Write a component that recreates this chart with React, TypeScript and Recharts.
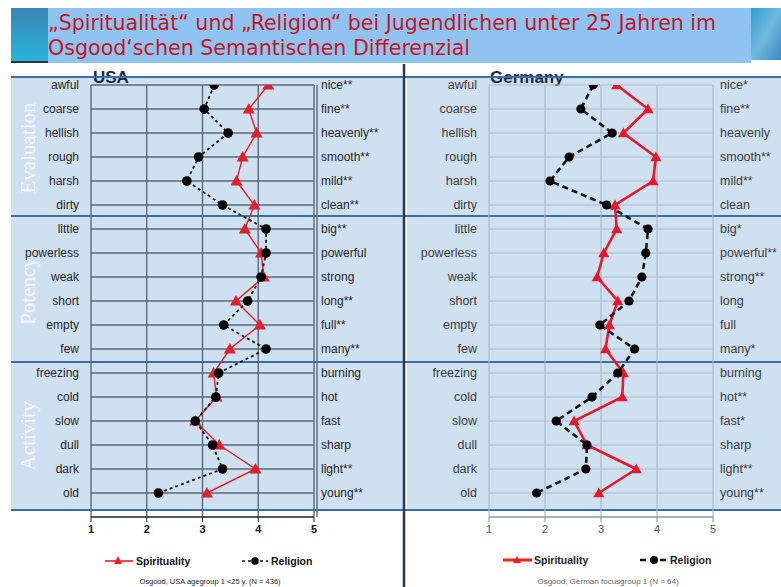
import React from 'react';
import { LineChart, Line, XAxis, YAxis, CartesianGrid } from 'recharts';

// semantic differential poles (left = negative pole)
const leftPoles = ['awful', 'coarse', 'hellish', 'rough', 'harsh', 'dirty', 'little', 'powerless', 'weak', 'short', 'empty', 'few', 'freezing', 'cold', 'slow', 'dull', 'dark', 'old'];
const usaRightPoles = ['nice**', 'fine**', 'heavenly**', 'smooth**', 'mild**', 'clean**', 'big**', 'powerful', 'strong', 'long**', 'full**', 'many**', 'burning', 'hot', 'fast', 'sharp', 'light**', 'young**'];
const gerRightPoles = ['nice*', 'fine**', 'heavenly', 'smooth**', 'mild**', 'clean', 'big*', 'powerful**', 'strong**', 'long', 'full', 'many*', 'burning', 'hot**', 'fast*', 'sharp', 'light**', 'young**'];

const usaSpirituality = [4.18, 3.83, 3.97, 3.72, 3.61, 3.93, 3.76, 4.05, 4.1, 3.6, 4.03, 3.49, 3.2, 3.25, 2.87, 3.3, 3.95, 3.08];
const usaReligion = [3.21, 3.03, 3.46, 2.93, 2.72, 3.36, 4.14, 4.14, 4.05, 3.81, 3.38, 4.14, 3.29, 3.24, 2.87, 3.18, 3.36, 2.21];
const gerSpirituality = [3.28, 3.84, 3.4, 3.98, 3.93, 3.25, 3.28, 3.05, 2.93, 3.3, 3.15, 3.08, 3.4, 3.38, 2.52, 2.75, 3.63, 2.96];
const gerReligion = [2.86, 2.64, 3.2, 2.43, 2.09, 3.1, 3.84, 3.8, 3.73, 3.5, 2.98, 3.6, 3.3, 2.84, 2.2, 2.75, 2.73, 1.85];

const xTicks = [1, 2, 3, 4, 5];
const rowTicks = leftPoles.map((_, i) => i);
const sections = ['Evaluation', 'Potency', 'Activity'];

const buildRows = (spirit: number[], religion: number[]) =>
  leftPoles.map((pole, i) => ({ row: i, pole, spirituality: spirit[i], religion: religion[i] }));

const usaData = buildRows(usaSpirituality, usaReligion);
const gerData = buildRows(gerSpirituality, gerReligion);

const FONT = 'Liberation Sans, Arial, sans-serif';

type Theme = {
  grid: string;
  gridWidth: number;
  label: string;
  labelSize: number;
  tick: string;
  tickWeight: number;
  axis: string;
  red: string;
  redWidth: number;
  blackWidth: number;
  dash: string;
  tri: number;
  dotR: number;
  doubleFrame: boolean;
};

const usaTheme: Theme = {
  grid: '#5d6977', gridWidth: 1.4, label: '#262626', labelSize: 12, tick: '#111', tickWeight: 700, axis: '#222',
  red: '#e21f2c', redWidth: 1.4, blackWidth: 1.8, dash: '3 3', tri: 6, dotR: 4.8, doubleFrame: true,
};
const gerTheme: Theme = {
  grid: '#a9bacb', gridWidth: 1.2, label: '#3d3d3d', labelSize: 12.5, tick: '#555', tickWeight: 400, axis: '#888',
  red: '#e8182c', redWidth: 2.6, blackWidth: 2.6, dash: '6 4', tri: 5.5, dotR: 4.6, doubleFrame: false,
};

function makeTriangle(color: string, s: number) {
  return (props: any) => {
    const { cx, cy, index } = props;
    if (cx == null || cy == null) return <g key={`t-${index}`} />;
    return (
      <polygon
        key={`t-${index}`}
        points={`${cx},${cy - s} ${cx - s},${cy + s * 0.75} ${cx + s},${cy + s * 0.75}`}
        fill={color}
      />
    );
  };
}

interface PanelProps {
  left: number;
  width: number;
  plotLeft: number;
  plotRight: number;
  data: any[];
  rightPoles: string[];
  theme: Theme;
}

function Panel({ left, width, plotLeft, plotRight, data, rightPoles, theme }: PanelProps) {
  const labelTick = { fill: theme.label, fontSize: theme.labelSize, fontFamily: FONT };
  return (
    <div style={{ position: 'absolute', left, top: 0 }}>
      <LineChart
        layout="vertical"
        width={width}
        height={587}
        data={data}
        margin={{ top: 85, right: 0, bottom: 40, left: 0 }}
      >
        <CartesianGrid stroke={theme.grid} strokeWidth={theme.gridWidth} />
        <XAxis
          type="number"
          domain={[1, 5]}
          ticks={xTicks}
          interval={0}
          allowDataOverflow
          height={30}
          tickSize={5}
          tickMargin={3}
          stroke={theme.axis}
          tick={{ fill: theme.tick, fontSize: 11, fontFamily: FONT, fontWeight: theme.tickWeight }}
        />
        <YAxis
          type="number"
          dataKey="row"
          domain={[0, 18]}
          ticks={rowTicks}
          interval={0}
          allowDataOverflow
          width={plotLeft}
          tickSize={0}
          tickMargin={12}
          axisLine={false}
          tickLine={false}
          tickFormatter={(v: number) => leftPoles[v] ?? ''}
          tick={labelTick}
        />
        <YAxis
          yAxisId="r"
          orientation="right"
          type="number"
          dataKey="row"
          domain={[0, 18]}
          ticks={rowTicks}
          interval={0}
          allowDataOverflow
          width={width - plotRight}
          tickSize={0}
          tickMargin={7}
          axisLine={theme.doubleFrame ? { stroke: theme.grid, strokeWidth: theme.gridWidth, transform: 'translate(3,0)' } : false}
          tickLine={false}
          tickFormatter={(v: number) => rightPoles[v] ?? ''}
          tick={labelTick}
        />
        <Line
          dataKey="spirituality"
          stroke={theme.red}
          strokeWidth={theme.redWidth}
          dot={makeTriangle(theme.red, theme.tri)}
          activeDot={false}
          isAnimationActive={false}
        />
        <Line
          dataKey="religion"
          stroke="#151515"
          strokeWidth={theme.blackWidth}
          strokeDasharray={theme.dash}
          dot={{ r: theme.dotR, fill: '#000', stroke: '#000', strokeWidth: 0 }}
          activeDot={false}
          isAnimationActive={false}
        />
      </LineChart>
    </div>
  );
}

function Decor() {
  const sepY = [77, 216, 362, 510];
  const sectionY = [148, 291, 436];
  const titleFont = "'Liberation Sans Narrow', 'DejaVu Sans Condensed', sans-serif";
  return (
    <svg width={781} height={587} style={{ position: 'absolute', left: 0, top: 0 }}>
      <defs>
        <linearGradient id="leftStrip" x1="0" y1="0" x2="0" y2="1">
          <stop offset="0" stopColor="#3b84b5" />
          <stop offset="1" stopColor="#27b6dc" />
        </linearGradient>
        <linearGradient id="rightStrip" x1="0" y1="0" x2="1" y2="1">
          <stop offset="0" stopColor="#2f9ed2" />
          <stop offset="0.5" stopColor="#6fb9e0" />
          <stop offset="1" stopColor="#3f88c0" />
        </linearGradient>
      </defs>
      <rect x={11} y={8} width={37} height={54} fill="url(#leftStrip)" />
      <line x1={11} y1={62} x2={48} y2={62} stroke="#333" strokeWidth={2} />
      <rect x={751} y={8} width={30} height={52} fill="url(#rightStrip)" />
      <rect x={48} y={8} width={703} height={55} fill="#8fc4f2" />
      <text x={48} y={30} fill="#c8141f" fontFamily={titleFont} fontSize={21} textLength={668} lengthAdjust="spacingAndGlyphs">
        „Spiritualität“ und „Religion“ bei Jugendlichen unter 25 Jahren im
      </text>
      <text x={48} y={55} fill="#c8141f" fontFamily={titleFont} fontSize={21} textLength={422} lengthAdjust="spacingAndGlyphs">
        Osgood‘schen Semantischen Differenzial
      </text>

      <rect x={11} y={77} width={392} height={433} fill="#cfe0f1" />
      <rect x={407} y={77} width={374} height={433} fill="#cfe0f1" />

      <text x={93} y={83} fill="#1b2a44" fontFamily={FONT} fontWeight={700} fontSize={17}>USA</text>
      <text x={490} y={83} fill="#1b2a44" fontFamily={FONT} fontWeight={700} fontSize={17}>Germany</text>

      {sepY.map((y) => (
        <line key={y} x1={11} y1={y} x2={781} y2={y} stroke="#3c6ea6" strokeWidth={2} />
      ))}
      <line x1={404} y1={64} x2={404} y2={587} stroke="#22395a" strokeWidth={2.5} />

      {sections.map((s, i) => (
        <text
          key={s}
          x={28}
          y={sectionY[i]}
          transform={`rotate(-90 28 ${sectionY[i]})`}
          textAnchor="middle"
          dominantBaseline="central"
          fill="#f4f8fc"
          fontFamily="'Liberation Serif', 'DejaVu Serif', serif"
          fontSize={21}
        >
          {s}
        </text>
      ))}

      {/* legends */}
      <line x1={105} y1={561} x2={133} y2={561} stroke="#ff1c1c" strokeWidth={1.6} />
      <polygon points="118,556 114,564 122,564" fill="#ff1c1c" />
      <text x={136} y={565} fontFamily={FONT} fontWeight={700} fontSize={10.5} fill="#111">Spirituality</text>
      <line x1={242} y1={561} x2={268} y2={561} stroke="#111" strokeWidth={1.6} strokeDasharray="3 3" />
      <circle cx={255} cy={561} r={3.8} fill="#000" />
      <text x={271} y={565} fontFamily={FONT} fontWeight={700} fontSize={10.5} fill="#111">Religion</text>

      <line x1={503} y1={560} x2={532} y2={560} stroke="#ff1c1c" strokeWidth={3} />
      <polygon points="517,556 513,563 521,563" fill="#ff1c1c" />
      <text x={534} y={564} fontFamily={FONT} fontWeight={700} fontSize={10.5} fill="#222">Spirituality</text>
      <line x1={640} y1={560} x2={668} y2={560} stroke="#111" strokeWidth={2.6} strokeDasharray="6 4" />
      <circle cx={654} cy={560} r={4} fill="#000" />
      <text x={670} y={564} fontFamily={FONT} fontWeight={700} fontSize={10.5} fill="#222">Religion</text>

      <text x={210} y={584} textAnchor="middle" fontFamily={FONT} fontSize={7.5} fill="#222">
        Osgood, USA agegroup 1 &lt;25 y. (N = 436)
      </text>
      <text x={608} y={584} textAnchor="middle" fontFamily={FONT} fontSize={8} fill="#666">
        Osgood, German focusgroup 1 (N = 64)
      </text>
    </svg>
  );
}

export default function App() {
  return (
    <div style={{ position: 'absolute', left: 0, top: 0, width: 781, height: 587, background: '#fff', overflow: 'hidden' }}>
      <Decor />
      <Panel left={0} width={400} plotLeft={91} plotRight={314} data={usaData} rightPoles={usaRightPoles} theme={usaTheme} />
      <Panel left={400} width={381} plotLeft={89} plotRight={313} data={gerData} rightPoles={gerRightPoles} theme={gerTheme} />
    </div>
  );
}
